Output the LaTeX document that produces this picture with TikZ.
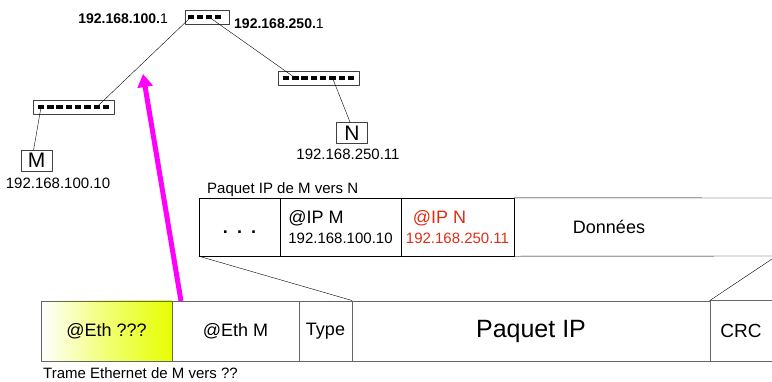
\documentclass[tikz,border=0pt]{standalone}
\usepackage{fontspec}
\setmainfont{Liberation Sans}
\usetikzlibrary{arrows.meta}
\newcommand{\fsz}[1]{\fontsize{#1}{#1}\selectfont}
\definecolor{ipred}{RGB}{225,45,20}
\definecolor{ethyellow}{RGB}{230,255,0}
\definecolor{framegray}{gray}{0.4}
\definecolor{arrowpink}{RGB}{255,0,255}

\begin{document}
\begin{tikzpicture}[x=1pt, y=-1pt,
				line join=round, line cap=round,
				every node/.style = {inner sep=0pt, font=\fsz{15}},
				box/.style = {draw=black!75, minimum width=#1, minimum height=14pt},
				port/.style = {fill, minimum width=6.5pt, minimum height=3.2pt},
				host/.style = {draw=black!75, minimum width=31pt, minimum height=21pt, font=\fsz{21}},
				ipcell/.style = {draw, minimum width=#1, minimum height=58pt},
				ethcell/.style = {draw=framegray, minimum width=#1, minimum height=60.5pt, font=\fsz{18}}
				]
				\useasboundingbox (0,0) rectangle (772,381);
				% routeur et commutateurs
				\node[box=44pt] (rt) at (207,17) {};
				\foreach \i in {1,...,4}
					\node[port] (rt\i) at ({182+9*\i},17) {};
				\node[box=81pt] (ls) at (73.5,107) {};
				\foreach \i in {1,...,8}
					\node[port] (ls\i) at ({31.7+9.3*\i},107) {};
				\node[box=81pt] (rs) at (318.5,78) {};
				\foreach \i in {1,...,8}
					\node[port] (rs\i) at ({276.7+9.3*\i},78) {};
				\node[anchor=east, font=\fsz{14}] (rtl) at (168,18.5) {\textbf{192.168.100.}1};
				\node[anchor=west, font=\fsz{14}] (rtr) at (234,23.5) {\textbf{192.168.250.}1};
				% machines
				\node[host] (m) at (36.5,160.5) {M};
				\node[host] (n) at (352,133) {N};
				\node (mip) at (58,183) {192.168.100.10};
				\node (nip) at (348,154) {192.168.250.11};
				\draw (rt1) -- (ls7);
				\draw (rt3) -- (rs2);
				\draw (ls1) -- (m.105);
				\draw (rs6) -- (n.100);
				% paquet IP
				\node[anchor=base west] (iptitle) at (207,193) {Paquet IP de M vers N};
				\node[ipcell=81pt, font=\fsz{18}] (dots) at (239.5,227) {};
				\node[font=\bfseries\fsz{18}] (dotstext) at ([yshift=-5pt]dots.center) {.\hspace{9pt}.\hspace{9pt}.};
				\node[ipcell=121pt, align=left, font=\fontsize{15}{20}\selectfont] (ipm) at (340.5,227)
					{{\fsz{18}@IP M}\\192.168.100.10};
				\node[ipcell=113pt, align=left, text=ipred, font=\fontsize{15}{20}\selectfont] (ipn) at (457.5,227)
					{{\fsz{18}\hspace*{7pt}@IP N}\\192.168.250.11};
				\node[minimum width=190pt, minimum height=58pt, font=\fsz{18}] (data) at (609,227) {Données};
				\draw (ipn.north east) -- (772,198)
					(ipn.south east) -- (772,256);
				% fleche
				\coordinate (foot) at (181,301);
				\coordinate (tip) at (143,74);
				\draw[arrowpink, line width=5pt, line cap=butt, -{Triangle[length=13pt, width=15pt]}] (foot) -- (tip);
				% trame Ethernet
				\node[ethcell=131pt, left color=white, right color=ethyellow, middle color=ethyellow!55] (eth1) at (106.5,331) {@Eth ???};
				\node[ethcell=127pt] (eth2) at (235.5,331) {@Eth M};
				\node[ethcell=53pt] (type) at (325.5,331) {Type};
				\node[ethcell=358pt, font=\fsz{25}] (pip) at (531,331) {Paquet IP};
				\node[minimum width=62pt, minimum height=60.5pt, font=\fsz{19}] (crc) at (741,331) {CRC};
				\draw[framegray] (crc.north east) -- (crc.north west)
					(crc.south west) -- (crc.south east);
				\node[anchor=base west] (ethtitle) at (43,378) {Trame Ethernet de M vers ??};
				\coordinate (ipcut) at (772,259);
				\draw (dots.south west) -- (type.north east);
				\draw (ipcut) -- (crc.north west);
\end{tikzpicture}
\end{document}
